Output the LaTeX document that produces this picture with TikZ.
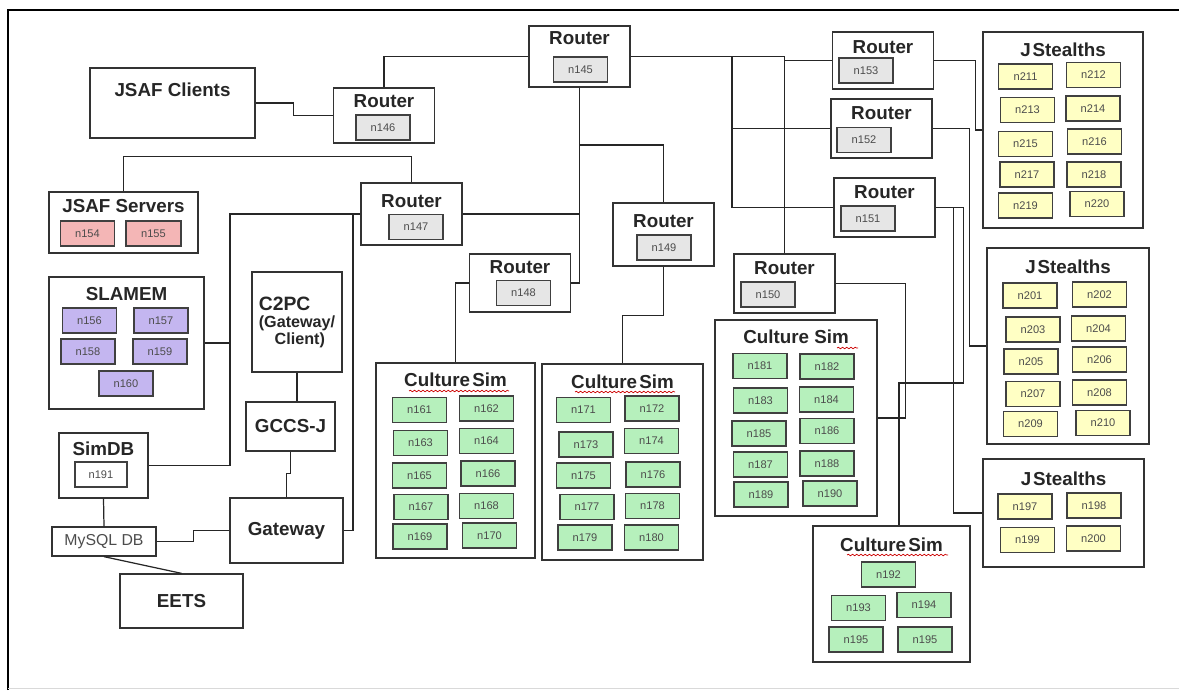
\documentclass[tikz,border=0pt]{standalone}
\usepackage{fontspec}
\setmainfont{Liberation Sans}
\usetikzlibrary{decorations.pathmorphing}

\definecolor{routergray}{HTML}{E6E6E6}
\definecolor{serverpink}{HTML}{F4B6B6}
\definecolor{slamempurple}{HTML}{C4B6F0}
\definecolor{simgreen}{HTML}{B6F0BC}
\definecolor{stealthyellow}{HTML}{FFFFC4}

\begin{document}
\begin{tikzpicture}[x=0.02cm, y=-0.02cm,
    bigtext/.style={font=\fontsize{10.7}{12}\selectfont\bfseries, text=black!85},
    panel/.style={draw=black!80, line width=0.75pt, inner sep=0pt},
    heading/.style={bigtext, inner sep=0pt, anchor=north},
    titled/.style 2 args={label={[heading, yshift=-#2]north:#1}},
    router/.style={panel, minimum width=2.02cm, minimum height=1.18cm, titled={Router}{#1}},
    cell/.style={draw=black!75, line width=0.85pt, minimum width=1.08cm, minimum height=0.5cm, inner sep=0pt, font=\fontsize{6.3}{7}\selectfont, text=black!70},
    gw/.style={cell, fill=routergray},
    srv/.style={cell, fill=serverpink},
    slm/.style={cell, fill=slamempurple},
    sim/.style={cell, fill=simgreen},
    jst/.style={cell, fill=stealthyellow},
    link/.style={draw=black!85, line width=0.7pt},
    squiggle/.style={red!80!black, line width=0.4pt, decorate, decoration={snake, amplitude=0.45pt, segment length=2.4pt}}]

  \useasboundingbox (0,0) rectangle (1179,690);
  % frame
  \draw[line width=1.1pt] (8,690) -- (8,10) -- (1179,10);
  \draw[black!15] (8,688) -- (1179,688);

  % routers
  \node[router=0.12cm, minimum height=1.22cm] (r145) at (579.5,56.5) {};
  \node[gw] (n145) at (580.5,69.5) {n145};
  \node[router=0.14cm, minimum height=1.1cm] (r146) at (384,115.5) {};
  \node[gw] (n146) at (383,127.5) {n146};
  \node[router=0.24cm, minimum height=1.24cm] (r147) at (411.5,214) {};
  \node[gw] (n147) at (416,227) {n147};
  \node[router=0.14cm, minimum height=1.16cm] (r148) at (520,283) {};
  \node[gw] (n148) at (523.5,293) {n148};
  \node[router=0.24cm, minimum height=1.26cm] (r149) at (663.5,234.5) {};
  \node[gw] (n149) at (664,247.5) {n149};
  \node[router=0.16cm] (r150) at (784.5,283.5) {};
  \node[gw] (n150) at (768,294.5) {n150};
  \node[router=0.16cm] (r151) at (884.5,207.5) {};
  \node[gw] (n151) at (868,218.5) {n151};
  \node[router=0.16cm] (r152) at (881.5,128.5) {};
  \node[gw] (n152) at (864,140) {n152};
  \node[router=0.18cm, minimum height=1.14cm] (r153) at (883,60.5) {};
  \node[gw] (n153) at (866,70.5) {n153};

  % left side
  \node[panel, minimum width=3.3cm, minimum height=1.4cm, titled={JSAF Clients}{0.3cm}] (clients) at (172.5,103) {};
  \node[panel, minimum width=2.98cm, minimum height=1.22cm, titled={JSAF Servers}{0.16cm}] (servers) at (123.5,222.5) {};
  \node[srv] (n154) at (87.5,233.5) {n154};
  \node[srv, minimum width=1.1cm] (n155) at (153.5,233.5) {n155};
  \node[panel, minimum width=3.1cm, minimum height=2.64cm, titled={SLAMEM}{0.22cm}] (slamem) at (126.5,343) {};
  \node[slm] (n156) at (89.5,320.5) {n156};
  \node[slm] (n157) at (161,320.5) {n157};
  \node[slm] (n158) at (88,351.5) {n158};
  \node[slm] (n159) at (160,351.5) {n159};
  \node[slm] (n160) at (126,383.5) {n160};
  \node[panel, minimum width=1.8cm, minimum height=2cm, align=left, font=\fontsize{9.2}{9.2}\selectfont\bfseries, text=black!85] (c2pc) at (297,322)
    {{\fontsize{11}{11}\selectfont C2PC}\\[1pt](Gateway/\\\hspace*{9pt}Client)};
  \node[panel, bigtext, minimum width=1.78cm, minimum height=0.98cm] (gccsj) at (290.5,426.5) {GCCS-J};
  \node[panel, bigtext, minimum width=2.26cm, minimum height=1.3cm] (gateway) at (286.5,530.5) {Gateway};
  \node[panel, minimum width=1.78cm, minimum height=1.3cm, titled={SimDB}{0.18cm}] (simdb) at (103.5,465.5) {};
  \node[cell, minimum width=1.04cm] (n191) at (101,474.5) {n191};
  \node[panel, minimum width=2.08cm, minimum height=0.58cm, font=\fontsize{9}{10}\selectfont, text=black!70] (mysql) at (104,541.5) {MySQL DB};
  \node[panel, bigtext, minimum width=2.46cm, minimum height=1.08cm] (eets) at (181.5,601) {EETS};

  % culture sims
  \node[panel, minimum width=3.18cm, minimum height=3.9cm, titled={Culture\kern0.12em Sim}{0.2cm}] (cs1) at (455.5,460.5) {};
  \node[sim] (n161) at (419.5,410) {n161};
  \node[sim] (n162) at (486.5,408.5) {n162};
  \node[sim] (n163) at (420.5,443) {n163};
  \node[sim] (n164) at (486.5,441) {n164};
  \node[sim] (n165) at (419.5,475.5) {n165};
  \node[sim] (n166) at (488,473.5) {n166};
  \node[sim] (n167) at (421,507) {n167};
  \node[sim] (n168) at (486.5,506) {n168};
  \node[sim] (n169) at (420,536.5) {n169};
  \node[sim] (n170) at (489.5,535.5) {n170};

  \node[panel, minimum width=3.22cm, minimum height=3.92cm, titled={Culture\kern0.12em Sim}{0.22cm}] (cs2) at (622.5,462) {};
  \node[sim] (n171) at (583.5,410) {n171};
  \node[sim] (n172) at (652,408.5) {n172};
  \node[sim] (n173) at (586,444.5) {n173};
  \node[sim] (n174) at (651.5,441) {n174};
  \node[sim] (n175) at (583.5,475.5) {n175};
  \node[sim] (n176) at (653,474.5) {n176};
  \node[sim] (n177) at (587,507) {n177};
  \node[sim] (n178) at (652.5,506) {n178};
  \node[sim] (n179) at (585,537.5) {n179};
  \node[sim] (n180) at (651.5,537.5) {n180};

  \node[panel, minimum width=3.24cm, minimum height=3.92cm, titled={Culture Sim}{0.2cm}] (cs3) at (796,418) {};
  \node[sim] (n181) at (760,366) {n181};
  \node[sim] (n182) at (827,366.5) {n182};
  \node[sim] (n183) at (760.5,400.5) {n183};
  \node[sim] (n184) at (826.5,399.5) {n184};
  \node[sim] (n185) at (759,433.5) {n185};
  \node[sim] (n186) at (827,431) {n186};
  \node[sim] (n187) at (760.5,464.5) {n187};
  \node[sim] (n188) at (827,463.5) {n188};
  \node[sim] (n189) at (761,494.5) {n189};
  \node[sim] (n190) at (830,493.5) {n190};

  \node[panel, minimum width=3.14cm, minimum height=2.72cm, titled={Culture\kern0.12em Sim}{0.24cm}] (cs4) at (891.5,594) {};
  \node[sim] (n192) at (888.5,574.5) {n192};
  \node[sim] (n193) at (858.5,608) {n193};
  \node[sim] (n194) at (924,605) {n194};
  \node[sim] (n195a) at (856,639.5) {n195};
  \node[sim] (n195b) at (925,639.5) {n195};

  % stealths
  \node[panel, minimum width=3.2cm, minimum height=3.92cm, titled={J\kern0.1em Stealths}{0.22cm}] (js1) at (1063,130) {};
  \node[jst] (n211) at (1025.5,76.5) {n211};
  \node[jst] (n212) at (1093.5,75) {n212};
  \node[jst] (n213) at (1027.5,110) {n213};
  \node[jst] (n214) at (1093,108.5) {n214};
  \node[jst] (n215) at (1025.5,144) {n215};
  \node[jst] (n216) at (1094.5,141.5) {n216};
  \node[jst] (n217) at (1027,174.5) {n217};
  \node[jst] (n218) at (1094,174.5) {n218};
  \node[jst] (n219) at (1025.5,205.5) {n219};
  \node[jst] (n220) at (1097,204) {n220};

  \node[panel, minimum width=3.24cm, minimum height=3.92cm, titled={J\kern0.1em Stealths}{0.24cm}] (js2) at (1068,346) {};
  \node[jst] (n201) at (1030,295.5) {n201};
  \node[jst] (n202) at (1099.5,294.5) {n202};
  \node[jst] (n203) at (1033,329.5) {n203};
  \node[jst] (n204) at (1098.5,328.5) {n204};
  \node[jst] (n205) at (1031,361.5) {n205};
  \node[jst] (n206) at (1099.5,359.5) {n206};
  \node[jst] (n207) at (1033,394) {n207};
  \node[jst] (n208) at (1099.5,392.5) {n208};
  \node[jst] (n209) at (1030.5,424) {n209};
  \node[jst] (n210) at (1103,423) {n210};

  \node[panel, minimum width=3.22cm, minimum height=2.16cm, titled={J\kern0.1em Stealths}{0.26cm}] (js3) at (1063.5,513) {};
  \node[jst] (n197) at (1025,506.5) {n197};
  \node[jst] (n198) at (1094,505.5) {n198};
  \node[jst] (n199) at (1027.5,540) {n199};
  \node[jst] (n200) at (1093.5,538.5) {n200};

  % spell-check marks
  \draw[squiggle] (409,391) -- (509,391);
  \draw[squiggle] (575,392) -- (675,392);
  \draw[squiggle] (837,348) -- (858,348);
  \draw[squiggle] (847,555) -- (948,555);

  % links
  \coordinate (t1) at (732,56.5);
  \coordinate (t2) at (r150.north |- r145.east);
  \coordinate (t3) at (579.5,145);
  \coordinate (t4) at (230,214);
  \coordinate (t5) at (353,214);
  \coordinate (t6) at (899,383);
  \draw[link] (clients.east) -- ++(38,0) |- (r146.west);
  \draw[link] (r146.north) |- (r145.west);
  \draw[link] (r145.east) -- (t2) |- (r153.west);
  \draw[link] (t1) |- (r152.west);
  \draw[link] (t1) |- (r151.west);
  \draw[link] (t2) -- (r150.north);
  \draw[link] (r145.south) |- (r148.east);
  \draw[link] (t3) -| (r149.north);
  \draw[link] (r147.east) -- (r147.east -| r145.south);
  \draw[link] (r147.north) -- ++(0,-26) -| (servers.north);
  \draw[link] (r147.west) -- (t4) |- (simdb.east);
  \draw[link] (t4 |- slamem.east) -- (slamem.east);
  \draw[link] (t5) |- (gateway.east);
  \draw[link] (r148.west) -| (cs1.north);
  \draw[link] (r149.south) -- ++(0,49) -| (cs2.north);
  \draw[link] (r150.east) -- ++(70,0) |- (cs3.east);
  \draw[link] (r151.east) -- ++(28,0) |- (t6) -- (t6 |- cs4.north);
  \draw[link] (r151.east) -- ++(18,0) |- (js3.west);
  \draw[link] (r152.east) -- ++(37,0) |- (js2.west);
  \draw[link] (r153.east) -- ++(41,0) |- (js1.west);
  \draw[link] (c2pc.south) -- (c2pc.south |- gccsj.north);
  \draw[link] (gccsj.south) -- ++(0,22) -| (gateway.north);
  \draw[link] (simdb.south) -- (mysql.north);
  \draw[link] (mysql.east) -- ++(37,0) |- (gateway.west);
  \draw[link] (mysql.south) -- (eets.north);
\end{tikzpicture}
\end{document}
